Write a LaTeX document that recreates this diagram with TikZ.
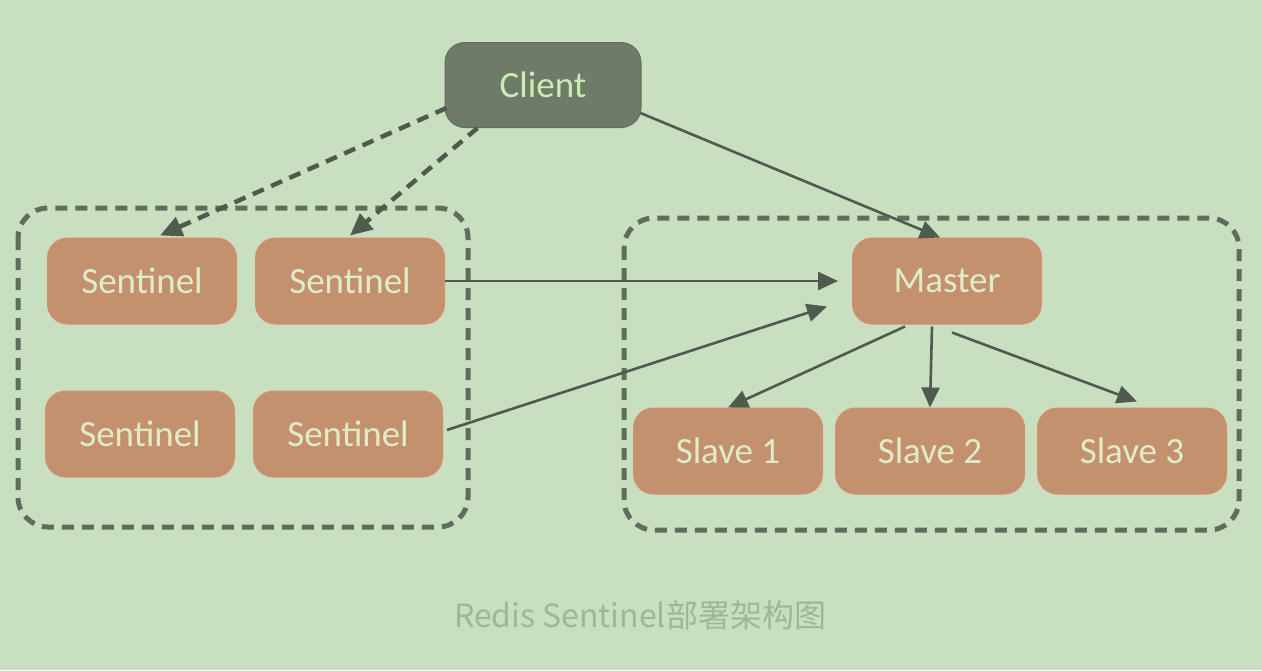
\documentclass[tikz,border=0pt]{standalone}
\usepackage{fontspec}
\setmainfont{Carlito}
\newfontfamily\cjk{Noto Sans CJK SC}
\usetikzlibrary{arrows.meta,calc}
\definecolor{bg}{HTML}{C8DFC0}
\definecolor{clientfill}{HTML}{6E7B68}
\definecolor{nodefill}{HTML}{C4916E}
\definecolor{nodeedge}{HTML}{D68E6C}
\definecolor{txt}{HTML}{DFEBC9}
\definecolor{linec}{HTML}{4F5B4C}
\definecolor{boxc}{HTML}{5F6D5C}
\definecolor{capc}{HTML}{9FB797}
\tikzset{
  box/.style={rounded corners=20pt, fill=nodefill, draw=nodeedge, line width=1pt,
    minimum width=189pt, minimum height=86pt, text=txt, font=\fontsize{37}{39}\selectfont, inner sep=0pt},
  clientbox/.style={box, fill=clientfill, draw=clientfill!90!black, minimum width=196pt, minimum height=85pt, text=txt!90!green},
  group/.style={draw=boxc, line width=5pt, dash pattern=on 12pt off 8pt, rounded corners=30pt},
  conn/.style={draw=linec, line width=2.6pt, -{Triangle[length=20pt,width=18pt]}},
  dconn/.style={conn, line width=4.5pt, dash pattern=on 12pt off 8pt, -{Triangle[length=22pt,width=20pt]}},
}
\begin{document}
\begin{tikzpicture}[x=1pt,y=-1pt]
\fill[bg] (0,0) rectangle (1262,670);
\useasboundingbox (0,0) rectangle (1262,670);

\draw[group] (18,208) rectangle (468,527);
\draw[group] (624,218) rectangle (1239,530);

\node[clientbox] (client) at (543,85) {Client};
\node[box] (s1) at (142,281) {Sentinel};
\node[box] (s2) at (350,281) {Sentinel};
\node[box] (s3) at (140,434) {Sentinel};
\node[box] (s4) at (348,434) {Sentinel};
\node[box] (master) at (947,281) {Master};
\node[box] (sl1) at (728,451) {Slave 1};
\node[box] (sl2) at (930,451) {Slave 2};
\node[box] (sl3) at (1132,451) {Slave 3};

\draw[dconn] ($(client.south west)+(2,-20)$) -- ($(s1.north)+(18,-2)$);
\draw[dconn] ($(client.south west)+(33,0)$) -- ($(s2.north)+(0,-2)$);
\draw[conn] ($(client.east)+(-1,28)$) -- ($(master.north)+(-7,0)$);
\draw[conn] (s2.east) -- ($(master.west)+(-14,0)$);
\draw[conn] ($(s4.east)+(4,-4)$) -- ($(master.south west)+(-25,-18)$);
\draw[conn] ($(master.south)+(-42,2)$) -- (sl1.north);
\draw[conn] ($(master.south)+(-15,2)$) -- (sl2.north);
\draw[conn] ($(master.south)+(5,8)$) -- ($(sl3.north)+(5,-6)$);

\node[text=capc, font=\cjk\fontsize{32}{34}\selectfont] (cap) at (640,615) {Redis Sentinel部署架构图};
\end{tikzpicture}
\end{document}
